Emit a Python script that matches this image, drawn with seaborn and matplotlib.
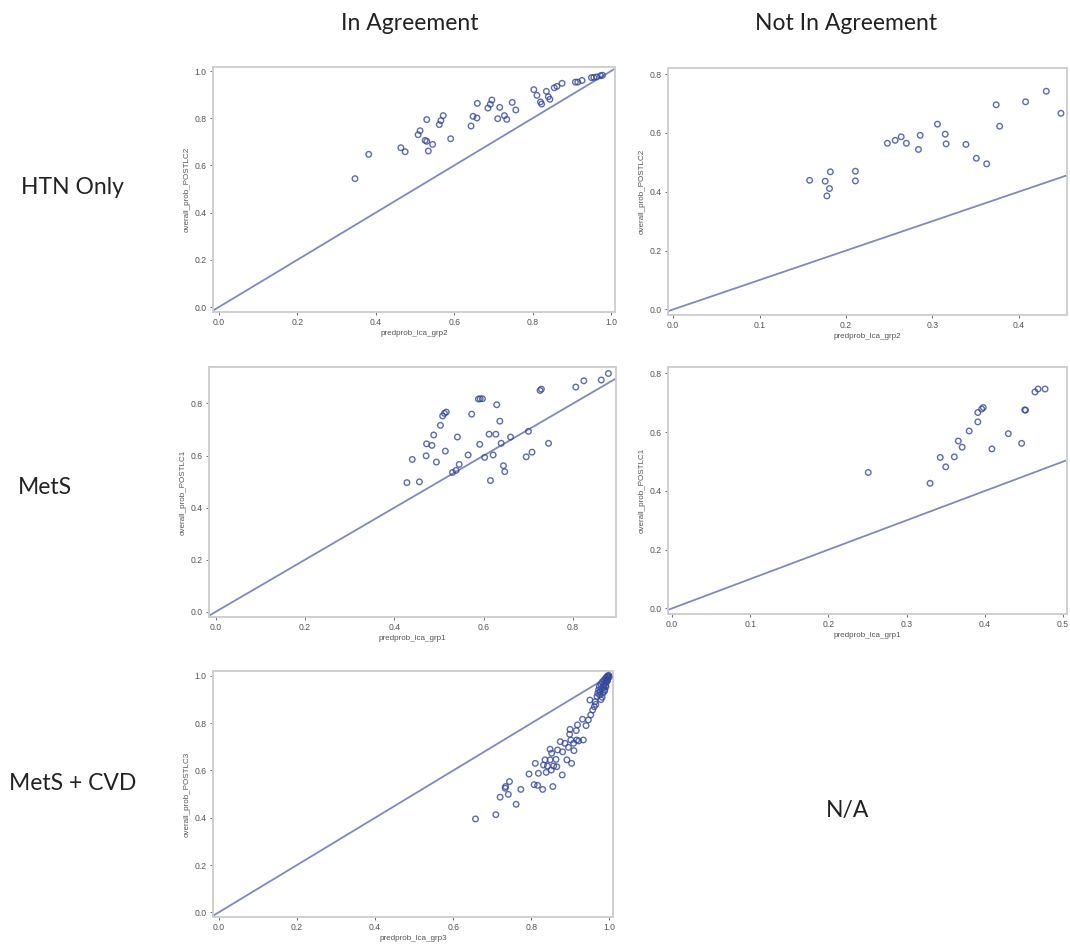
import numpy as np
import pandas as pd
import matplotlib
matplotlib.use("Agg")
import matplotlib.pyplot as plt
import seaborn as sns

# HTN Only - In Agreement
htn_in_x = [0.347, 0.382, 0.464, 0.475, 0.508, 0.513, 0.530, 0.526, 0.530, 0.534, 0.545, 0.562, 0.566,
            0.572, 0.591, 0.643, 0.648, 0.658, 0.659, 0.686, 0.692, 0.696, 0.711, 0.716, 0.728, 0.734,
            0.748, 0.757, 0.803, 0.811, 0.820, 0.823, 0.835, 0.840, 0.844, 0.855, 0.862, 0.875, 0.909,
            0.915, 0.926, 0.950, 0.956, 0.963, 0.973, 0.978]
htn_in_y = [0.544, 0.647, 0.675, 0.658, 0.730, 0.747, 0.794, 0.706, 0.702, 0.661, 0.689, 0.773, 0.790,
            0.811, 0.713, 0.767, 0.808, 0.801, 0.863, 0.843, 0.859, 0.877, 0.798, 0.846, 0.811, 0.795,
            0.867, 0.835, 0.921, 0.897, 0.869, 0.860, 0.914, 0.891, 0.880, 0.929, 0.935, 0.948, 0.953,
            0.953, 0.960, 0.972, 0.973, 0.975, 0.980, 0.982]

# HTN Only - Not In Agreement
htn_not_x = [0.158, 0.176, 0.178, 0.181, 0.182, 0.211, 0.211, 0.248, 0.257, 0.264, 0.270, 0.284, 0.286,
             0.306, 0.315, 0.316, 0.339, 0.351, 0.363, 0.374, 0.378, 0.408, 0.432, 0.449]
htn_not_y = [0.439, 0.436, 0.386, 0.411, 0.468, 0.470, 0.437, 0.565, 0.575, 0.587, 0.565, 0.544, 0.592,
             0.630, 0.596, 0.563, 0.561, 0.514, 0.495, 0.696, 0.623, 0.706, 0.742, 0.667]

# MetS - In Agreement
mets_in_x = [0.428, 0.440, 0.456, 0.471, 0.472, 0.484, 0.488, 0.494, 0.503, 0.508, 0.512, 0.516, 0.514,
             0.530, 0.538, 0.541, 0.545, 0.565, 0.573, 0.588, 0.592, 0.597, 0.591, 0.602, 0.612, 0.615,
             0.621, 0.627, 0.629, 0.636, 0.639, 0.644, 0.647, 0.660, 0.695, 0.700, 0.708, 0.726, 0.729,
             0.745, 0.806, 0.824, 0.863, 0.879]
mets_in_y = [0.496, 0.585, 0.499, 0.599, 0.645, 0.639, 0.679, 0.575, 0.716, 0.752, 0.762, 0.767, 0.617,
             0.535, 0.543, 0.671, 0.566, 0.602, 0.759, 0.817, 0.818, 0.818, 0.643, 0.593, 0.682, 0.504,
             0.602, 0.682, 0.795, 0.732, 0.647, 0.561, 0.538, 0.671, 0.595, 0.693, 0.613, 0.850, 0.855,
             0.647, 0.863, 0.887, 0.890, 0.915]

# MetS - Not In Agreement
mets_not_x = [0.251, 0.330, 0.343, 0.350, 0.361, 0.366, 0.371, 0.380, 0.391, 0.391, 0.396, 0.398, 0.409,
              0.430, 0.447, 0.451, 0.452, 0.464, 0.468, 0.477]
mets_not_y = [0.463, 0.426, 0.514, 0.482, 0.516, 0.570, 0.549, 0.604, 0.667, 0.635, 0.679, 0.684, 0.543,
              0.595, 0.562, 0.676, 0.675, 0.737, 0.747, 0.747]

# MetS + CVD - In Agreement
cvd_in_x = [0.657, 0.709, 0.720, 0.733, 0.734, 0.741, 0.744, 0.761, 0.773, 0.794, 0.807, 0.810, 0.816,
            0.818, 0.829, 0.831, 0.835, 0.838, 0.841, 0.848, 0.851, 0.855, 0.848, 0.852, 0.857, 0.863,
            0.865, 0.867, 0.874, 0.879, 0.880, 0.886, 0.891, 0.895, 0.898, 0.899, 0.901, 0.903, 0.908,
            0.909, 0.915, 0.916, 0.918, 0.921, 0.931, 0.933, 0.940, 0.946, 0.950, 0.952, 0.957, 0.961,
            0.963, 0.968, 0.970, 0.972, 0.974, 0.976, 0.978, 0.980, 0.982, 0.983, 0.985, 0.986, 0.988,
            0.989, 0.990, 0.991, 0.992, 0.993, 0.995, 0.996, 0.997, 0.998, 0.965, 0.975, 0.985, 0.990,
            0.995, 0.999, 0.993, 0.987, 0.981, 0.978]
cvd_in_y = [0.395, 0.413, 0.487, 0.525, 0.532, 0.499, 0.553, 0.457, 0.520, 0.585, 0.540, 0.630, 0.537,
            0.588, 0.520, 0.623, 0.645, 0.592, 0.619, 0.645, 0.602, 0.532, 0.690, 0.673, 0.619, 0.647,
            0.616, 0.687, 0.722, 0.581, 0.679, 0.715, 0.645, 0.698, 0.753, 0.774, 0.729, 0.630, 0.715,
            0.684, 0.769, 0.729, 0.793, 0.725, 0.817, 0.729, 0.790, 0.814, 0.898, 0.835, 0.856, 0.870,
            0.891, 0.913, 0.927, 0.941, 0.955, 0.934, 0.966, 0.948, 0.976, 0.927, 0.962, 0.983, 0.941,
            0.969, 0.990, 0.955, 0.980, 0.997, 0.986, 1.000, 0.994, 1.003, 0.880, 0.920, 0.950, 0.960,
            0.980, 0.995, 0.975, 0.935, 0.910, 0.900]

col_titles = ["In Agreement", "Not In Agreement"]
row_titles = ["HTN Only", "MetS", "MetS + CVD"]

marker_col = "#33479b"
line_col = "#8088c0"
frame_col = "#cfcfcf"
txt_col = "#555555"

sns.set_style("white")
plt.rcParams["font.family"] = ["Liberation Sans", "DejaVu Sans"]

fig = plt.figure(figsize=(10.7, 9.52), dpi=100)

W, H = 1070, 952


def box(l, t, r, b):
    return [l / W, 1 - b / H, (r - l) / W, (b - t) / H]


panels = [
    dict(rect=box(213, 67, 615, 312), x=htn_in_x, y=htn_in_y, xlim=(-0.015, 1.010), ylim=(-0.021, 1.017),
         xt=np.arange(0, 1.01, 0.2), yt=np.arange(0, 1.01, 0.2), xl="predprob_lca_grp2", yl="overall_prob_POSTLC2"),
    dict(rect=box(668, 68, 1067, 315), x=htn_not_x, y=htn_not_y, xlim=(-0.006, 0.456), ylim=(-0.019, 0.821),
         xt=np.arange(0, 0.41, 0.1), yt=np.arange(0, 0.81, 0.2), xl="predprob_lca_grp2", yl="overall_prob_POSTLC2"),
    dict(rect=box(209, 367, 616, 617), x=mets_in_x, y=mets_in_y, xlim=(-0.015, 0.896), ylim=(-0.020, 0.940),
         xt=np.arange(0, 0.81, 0.2), yt=np.arange(0, 0.81, 0.2), xl="predprob_lca_grp1", yl="overall_prob_POSTLC1"),
    dict(rect=box(668, 367, 1067, 614), x=mets_not_x, y=mets_not_y, xlim=(-0.005, 0.505), ylim=(-0.019, 0.822),
         xt=np.arange(0, 0.51, 0.1), yt=np.arange(0, 0.81, 0.2), xl="predprob_lca_grp1", yl="overall_prob_POSTLC1"),
    dict(rect=box(213, 671, 613, 917), x=cvd_in_x, y=cvd_in_y, xlim=(-0.015, 1.009), ylim=(-0.020, 1.021),
         xt=np.arange(0, 1.01, 0.2), yt=np.arange(0, 1.01, 0.2), xl="predprob_lca_grp3", yl="overall_prob_POSTLC3"),
]

for p in panels:
    ax = fig.add_axes(p["rect"])
    df = pd.DataFrame({"x": p["x"], "y": p["y"]})
    sns.scatterplot(data=df, x="x", y="y", ax=ax, marker="o", s=16, linewidth=1.0,
                    edgecolor=marker_col, alpha=0.8, zorder=3)
    for c in ax.collections:
        c.set_facecolor("none")
    ax.axline((0, 0), slope=1, color=line_col, lw=1.3, zorder=2)
    ax.set_xlim(p["xlim"])
    ax.set_ylim(p["ylim"])
    ax.set_xticks(p["xt"])
    ax.set_yticks(p["yt"])
    ax.set_xticklabels([f"{v:.1f}" for v in p["xt"]])
    ax.set_yticklabels([f"{v:.1f}" for v in p["yt"]])
    ax.tick_params(axis="both", labelsize=6.2, colors=txt_col, length=2.5, width=0.6, pad=2,
                   bottom=True, left=True)
    ax.set_xlabel(p["xl"], fontsize=5.8, color=txt_col, labelpad=2)
    ax.set_ylabel(p["yl"], fontsize=5.8, color=txt_col, labelpad=3)
    for s in ax.spines.values():
        s.set_color(frame_col)
        s.set_linewidth(1.4)

head_font = dict(family=["Lato", "DejaVu Sans"], fontsize=16.5, color="#222222", ha="center", va="center")
fig.text(410 / W, 1 - 24 / H, col_titles[0], **head_font)
fig.text(846 / W, 1 - 24 / H, col_titles[1], **head_font)
fig.text(72 / W, 1 - 187 / H, row_titles[0], **head_font)
fig.text(45 / W, 1 - 488 / H, row_titles[1], **head_font)
fig.text(73 / W, 1 - 783 / H, row_titles[2], **head_font)
fig.text(848 / W, 1 - 810 / H, "N/A", **head_font)

fig.savefig("out.png", dpi=100, facecolor="white")
